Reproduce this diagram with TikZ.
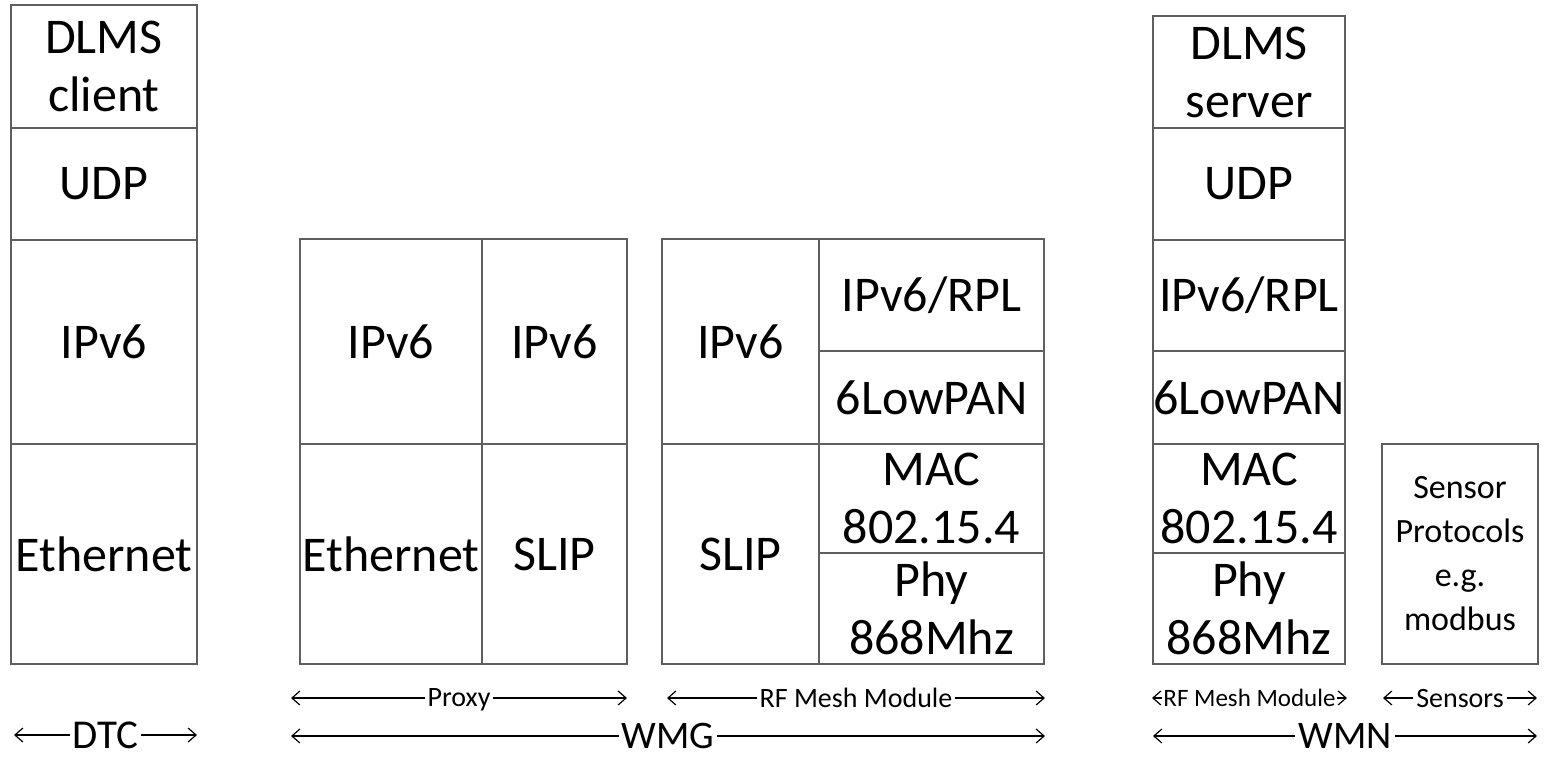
\documentclass[tikz,border=0pt]{standalone}
\usepackage{fontspec}
\setmainfont{Carlito}
\usetikzlibrary{arrows.meta}

\definecolor{boxgray}{HTML}{5F5F5F}
\tikzset{
  layer/.style={draw=boxgray, line width=1pt, inner sep=0pt, align=center,
    font=\fontsize{25}{29}\selectfont},
  span/.style={{Straight Barb[length=4pt,width=7pt]}-{Straight Barb[length=4pt,width=7pt]}, line width=0.6pt},
  spanlbl/.style={fill=white, inner xsep=1.5pt, inner ysep=0.5pt, text depth=0pt, font=\fontsize{14}{16}\selectfont},
  biglbl/.style={fill=white, inner xsep=1.5pt, inner ysep=0pt, text depth=0pt, font=\fontsize{19.5}{22}\selectfont}
}

\begin{document}
\begin{tikzpicture}[x=0.5pt, y=-0.5pt]
  \useasboundingbox (0,0) rectangle (1544,756);
  % protocol stacks: name / left / top / right / bottom / text
  \foreach \name/\xa/\ya/\xb/\yb/\lab in {
      dtcApp/11/5/197/128/{DLMS\\client}, dtcUdp/11/128/197/240/UDP,
      dtcIp/11/240/197/444/IPv6, dtcEth/11/444/197/664/Ethernet,
      pxIpA/300/239/482/444/IPv6, pxEth/300/444/482/664/Ethernet,
      pxIpB/482/239/627/444/IPv6, pxSlip/482/444/627/664/SLIP,
      rfIp/662/239/819/444/IPv6, rfSlip/662/444/819/664/SLIP,
      rfRpl/819/239/1044/351/{IPv6/RPL}, rfLowpan/819/351/1044/444/6LowPAN,
      rfMac/819/444/1044/553/{MAC\\802.15.4}, rfPhy/819/553/1044/664/{Phy\\868Mhz},
      wmnApp/1153/16/1345/128/{DLMS\\server}, wmnUdp/1153/128/1345/240/UDP,
      wmnRpl/1153/240/1345/351/{IPv6/RPL}, wmnLowpan/1153/351/1345/444/6LowPAN,
      wmnMac/1153/444/1345/553/{MAC\\802.15.4}, wmnPhy/1153/553/1345/664/{Phy\\868Mhz}}{
    \node[layer, minimum width={(\xb-\xa)*0.5pt}, minimum height={(\yb-\ya)*0.5pt}]
      (\name) at ({(\xa+\xb)/2},{(\ya+\yb)/2}) {\lab};
  }
  \node[layer, font=\fontsize{17}{22}\selectfont, minimum width=78pt, minimum height=110pt]
    (sens) at (1460,554) {Sensor\\Protocols\\e.g.\\modbus};

  % spans under the stacks
  \coordinate (pxL) at (291,698);   \coordinate (pxR) at (627,698);
  \coordinate (rfL) at (667,698);   \coordinate (rfR) at (1045,698);
  \coordinate (wmgL) at (291,736);  \coordinate (wmgR) at (1045,736);
  \coordinate (dtcL) at (14,735);   \coordinate (dtcR) at (197,735);
  \coordinate (modL) at (1152,698); \coordinate (modR) at (1347,698);
  \coordinate (sensL) at (1383,698);\coordinate (sensR) at (1537,698);
  \coordinate (wmnL) at (1153,736); \coordinate (wmnR) at (1537,736);

  \draw[span] (pxL) -- (pxR) node[midway, spanlbl] (pxLbl) {Proxy};
  \draw[span] (rfL) -- (rfR) node[midway, spanlbl] (rfLbl) {RF Mesh Module};
  \draw[span] (wmgL) -- (wmgR) node[midway, biglbl] (wmgLbl) {WMG};
  \draw[span] (dtcL) -- (dtcR) node[midway, biglbl, font=\fontsize{20.5}{24}\selectfont] (dtcLbl) {DTC};
  \draw[span] (modL) -- (modR) node[midway, spanlbl, inner xsep=0.5pt, font=\fontsize{12.5}{15}\selectfont] (modLbl) {RF Mesh Module};
  \draw[span] (sensL) -- (sensR) node[midway, spanlbl] (sensLbl) {Sensors};
  \draw[span] (wmnL) -- (wmnR) node[midway, biglbl] (wmnLbl) {WMN};
\end{tikzpicture}
\end{document}
